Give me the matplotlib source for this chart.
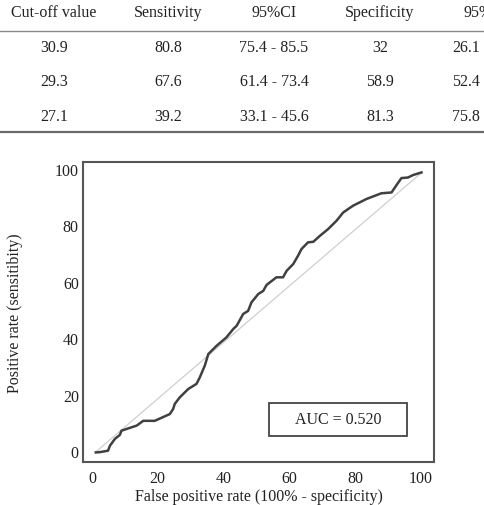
import matplotlib
matplotlib.use("Agg")
import matplotlib.pyplot as plt
from matplotlib.lines import Line2D
from matplotlib.patches import Rectangle

plt.rcParams['font.family'] = ['Liberation Serif', 'DejaVu Serif']

# table at the top (last column is cut off in the source)
headers = ["Cut-off value", "Sensitivity", "95%CI", "Specificity", "95%CI"]
cutoff = ["30.9", "29.3", "27.1"]
sens = ["80.8", "67.6", "39.2"]
sens_ci = ["75.4 - 85.5", "61.4 - 73.4", "33.1 - 45.6"]
spec = ["32", "58.9", "81.3"]
spec_ci = ["26.1", "52.4", "75.8"]

# ROC curve
fpr = [1.2, 2.4, 4.9, 5.5, 7.0, 8.5, 9.0, 10.5, 13.6, 15.6, 19.1, 23.7, 24.7,
       25.2, 26.7, 29.3, 31.8, 32.8, 34.3, 35.4, 37.9, 40.9, 43.0, 44.0, 46.0,
       47.5, 48.5, 50.6, 52.1, 53.1, 56.1, 58.1, 59.2, 61.2, 62.7, 63.7, 65.7,
       67.3, 69.3, 71.8, 74.4, 76.4, 79.4, 83.5, 88.0, 91.1, 92.6, 94.1, 96.1,
       97.7, 100.2]
tpr = [-0.5, -0.4, 0.1, 1.9, 4.3, 5.7, 7.2, 7.8, 9.0, 10.7, 10.7, 13.1, 14.9,
       16.7, 19.0, 22.0, 23.8, 26.1, 30.2, 34.4, 37.3, 40.3, 43.3, 44.4, 48.6,
       49.7, 52.7, 55.7, 56.8, 58.9, 61.6, 61.6, 63.9, 66.3, 69.3, 71.6, 74.0,
       74.2, 76.3, 78.7, 81.7, 84.6, 87.0, 89.4, 91.4, 91.7, 94.3, 96.8, 97.0,
       97.9, 98.8]
auc = 0.520

W, H = 484, 506
fig = plt.figure(figsize=(W / 100, H / 100), dpi=100)

col_x = [54, 168, 274, 380, 486]
row_y = [48, 82, 117]
fs = 11.5
txt = '#222222'

def fx(px):
    return px / W

def fy(py):
    return 1 - py / H

for x, h in zip(col_x, headers):
    fig.text(fx(x), fy(13), h, ha='center', va='center', fontsize=fs, color=txt)

rows = list(zip(cutoff, sens, sens_ci, spec, spec_ci))
for y, row in zip(row_y, rows):
    for j, (x, v) in enumerate(zip(col_x, row)):
        if j == 4:
            fig.text(fx(452), fy(y), v, ha='left', va='center', fontsize=fs, color=txt)
        else:
            fig.text(fx(x), fy(y), v, ha='center', va='center', fontsize=fs, color=txt)

fig.add_artist(Line2D([0, 1], [fy(31.5), fy(31.5)], color='#8a8a8a', lw=1.0))
fig.add_artist(Line2D([0, 1], [fy(133), fy(133)], color='#6a6a6a', lw=1.6))

# ROC plot
ax = fig.add_axes([83 / W, 1 - 463 / H, 351 / W, 300 / H])
ax.plot([1, 100], [-0.5, 98.5], color='#cfcfcf', lw=0.9)
ax.plot(fpr, tpr, color='#404040', lw=1.8)
ax.set_xlim(-2.7, 104)
ax.set_ylim(-3.9, 102.5)
ax.set_xticks([0, 20, 40, 60, 80, 100])
ax.set_yticks([0, 20, 40, 60, 80, 100])
ax.tick_params(length=0, labelsize=fs, colors=txt)
ax.tick_params(axis='x', pad=6)
ax.tick_params(axis='y', pad=3)
for s in ax.spines.values():
    s.set_color('#555555')
    s.set_linewidth(1.5)

ax.set_xlabel("False positive rate (100% - specificity)", fontsize=fs, color=txt, labelpad=1)
ax.set_ylabel("Positive rate (sensitibity)", fontsize=fs, color=txt, labelpad=23)

ax.add_patch(Rectangle((0.53, 0.087), 0.393, 0.11, transform=ax.transAxes,
                       fc='white', ec='#444444', lw=1.3, zorder=3))
ax.text(0.726, 0.142, "AUC = %.3f" % auc, transform=ax.transAxes, ha='center',
        va='center', fontsize=fs, color=txt, zorder=4)

fig.savefig("out.png", dpi=100)
